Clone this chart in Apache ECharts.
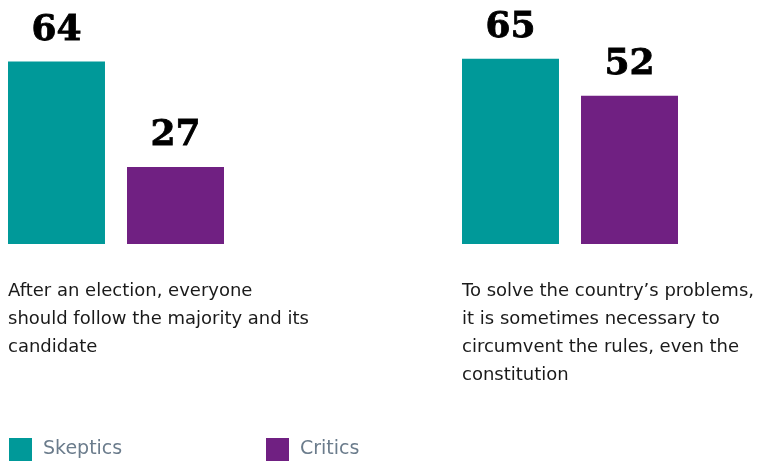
<!DOCTYPE html>
<html>
<head>
<meta charset="utf-8">
<script src="https://cdn.jsdelivr.net/npm/echarts@6/dist/echarts.min.js"></script>
<style>
  html, body { margin: 0; padding: 0; background: #fff; }
  #chart { width: 762px; height: 465px; }
</style>
</head>
<body>
<div id="chart"></div>
<script>
// Share of each group agreeing with the statement (%)
const statements = [
  'After an election, everyone\nshould follow the majority and its\ncandidate',
  'To solve the country\u2019s problems,\nit is sometimes necessary to\ncircumvent the rules, even the\nconstitution'
];
const seriesNames = ['Skeptics', 'Critics'];
const skeptics = [64, 65];
const critics = [27, 52];

const colors = ['#009999', '#702082'];
const gridLefts = [8, 462];

const chart = echarts.init(document.getElementById('chart'), null, { renderer: 'canvas' });

const grids = [], xAxes = [], yAxes = [], series = [], titles = [];
statements.forEach((s, i) => {
  grids.push({ left: gridLefts[i], width: 216, top: 16, bottom: 221 });
  xAxes.push({ type: 'category', gridIndex: i, data: [s], show: false });
  yAxes.push({ type: 'value', gridIndex: i, min: 0, max: 80, show: false });
  [skeptics, critics].forEach((vals, k) => {
    series.push({
      name: seriesNames[k],
      type: 'bar',
      xAxisIndex: i,
      yAxisIndex: i,
      data: [vals[i]],
      barWidth: 97,
      barGap: '22.7%',
      itemStyle: { color: colors[k] },
      label: {
        show: true,
        position: 'top',
        distance: 13,
        color: '#000',
        fontFamily: 'DejaVu Serif',
        fontWeight: 'bold',
        fontSize: 36,
        textBorderColor: '#000',
        textBorderWidth: 0.8
      }
    });
  });
  titles.push({
    text: s,
    left: gridLefts[i],
    top: 277,
    padding: 0,
    textStyle: {
      fontFamily: '"DejaVu Sans", sans-serif',
      fontWeight: 'normal',
      fontSize: 18,
      lineHeight: 28,
      color: '#1a1a1a'
    }
  });
});

const legendLefts = [9, 266];
const legends = seriesNames.map((n, k) => ({
  data: [n],
  left: legendLefts[k],
  top: 438,
  padding: 0,
  icon: 'rect',
  itemWidth: 23,
  itemHeight: 23,
  selectedMode: false,
  textStyle: {
    fontFamily: '"DejaVu Sans", sans-serif',
    fontSize: 19,
    color: '#6b7c8c',
    padding: [5, 0, 0, 6]
  }
}));

chart.setOption({
  animation: false,
  backgroundColor: '#fff',
  title: titles,
  legend: legends,
  grid: grids,
  xAxis: xAxes,
  yAxis: yAxes,
  series: series
});
</script>
</body>
</html>
